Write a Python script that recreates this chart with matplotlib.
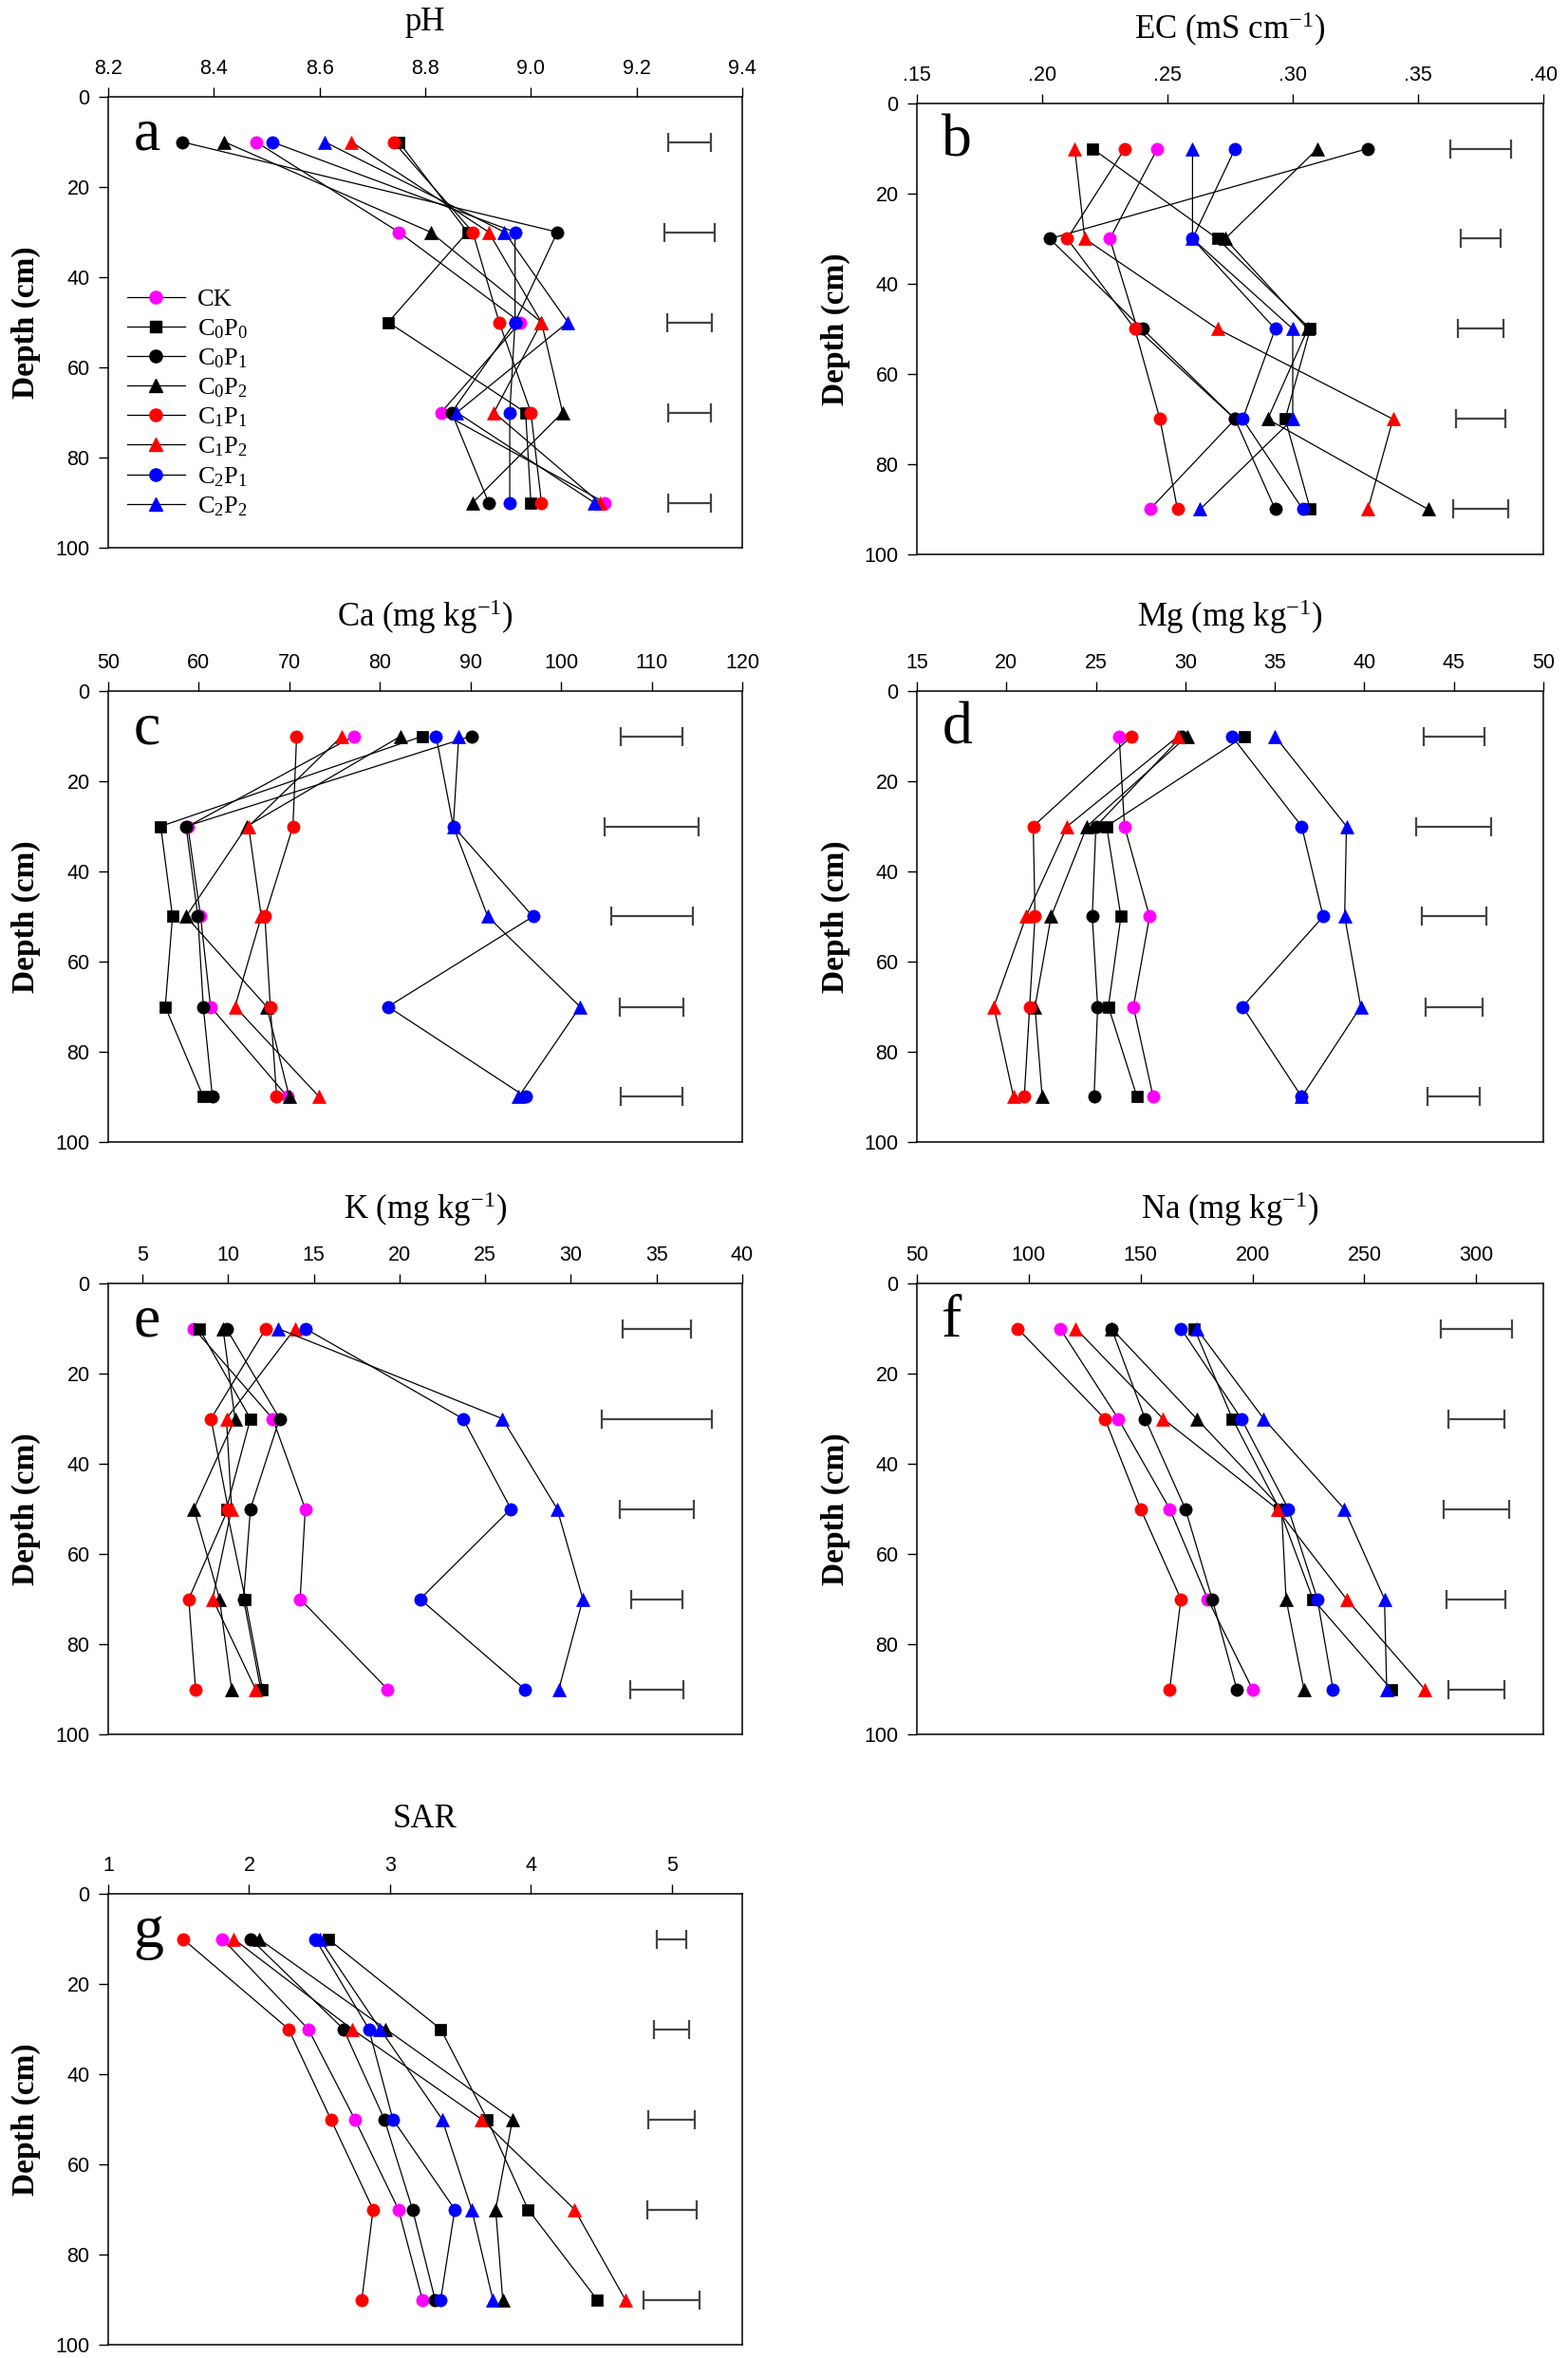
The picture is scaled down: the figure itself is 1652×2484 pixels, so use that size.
import matplotlib
matplotlib.use('Agg')
import matplotlib.pyplot as plt
from matplotlib.lines import Line2D
from matplotlib.ticker import FuncFormatter

plt.rcParams['mathtext.fontset'] = 'custom'
plt.rcParams['mathtext.rm'] = 'Liberation Serif'
plt.rcParams['mathtext.it'] = 'Liberation Serif:italic'
plt.rcParams['mathtext.bf'] = 'Liberation Serif:bold'

SERIF = 'Liberation Serif'
SANS = 'Liberation Sans'

# ---------------- data ----------------
depths = [10, 30, 50, 70, 90]
treatments = ['CK', 'C$_0$P$_0$', 'C$_0$P$_1$', 'C$_0$P$_2$',
              'C$_1$P$_1$', 'C$_1$P$_2$', 'C$_2$P$_1$', 'C$_2$P$_2$']
colors = ['#FF00FF', 'black', 'black', 'black', '#FF0000', '#FF0000', '#0000FF', '#0000FF']
markers = ['o', 's', 'o', '^', 'o', '^', 'o', '^']

# order of rows: CK, C0P0, C0P1, C0P2, C1P1, C1P2, C2P1, C2P2
ph_vals = [[8.48, 8.75, 8.98, 8.83, 9.14],
           [8.75, 8.88, 8.73, 8.99, 9.00],
           [8.34, 9.05, 8.97, 8.85, 8.92],
           [8.42, 8.81, 9.02, 9.06, 8.89],
           [8.74, 8.89, 8.94, 9.00, 9.02],
           [8.66, 8.92, 9.02, 8.93, 9.13],
           [8.51, 8.97, 8.97, 8.96, 8.96],
           [8.61, 8.95, 9.07, 8.86, 9.12]]
ph_bar_x = 9.30
ph_bar_hw = [0.040, 0.048, 0.042, 0.041, 0.040]

ec_vals = [[0.246, 0.227, 0.238, 0.277, 0.243],
           [0.220, 0.270, 0.307, 0.297, 0.307],
           [0.330, 0.203, 0.240, 0.277, 0.293],
           [0.310, 0.273, 0.306, 0.290, 0.354],
           [0.233, 0.210, 0.237, 0.247, 0.254],
           [0.213, 0.217, 0.270, 0.340, 0.330],
           [0.277, 0.260, 0.293, 0.280, 0.304],
           [0.260, 0.260, 0.300, 0.300, 0.263]]
ec_bar_x = 0.375
ec_bar_hw = [0.0122, 0.0078, 0.0090, 0.0097, 0.0110]

ca_vals = [[77.1, 58.8, 60.2, 61.3, 69.8],
           [84.7, 55.8, 57.1, 56.3, 60.5],
           [90.1, 58.6, 59.9, 60.5, 61.5],
           [82.3, 65.3, 58.6, 67.5, 70.0],
           [70.8, 70.4, 67.3, 67.9, 68.6],
           [75.8, 65.5, 66.9, 64.0, 73.3],
           [86.2, 88.1, 96.9, 80.9, 96.1],
           [88.7, 88.1, 91.9, 102.1, 95.3]]
ca_bar_x = 110.0
ca_bar_hw = [3.4, 5.2, 4.5, 3.5, 3.4]

mg_vals = [[26.3, 26.6, 28.0, 27.1, 28.2],
           [33.3, 25.6, 26.4, 25.7, 27.3],
           [29.8, 25.0, 24.8, 25.1, 24.9],
           [30.1, 24.5, 22.5, 21.6, 22.0],
           [27.0, 21.5, 21.6, 21.3, 21.0],
           [29.6, 23.4, 21.1, 19.3, 20.4],
           [32.6, 36.5, 37.7, 33.2, 36.5],
           [35.0, 39.0, 38.9, 39.8, 36.5]]
mg_bar_x = 45.0
mg_bar_hw = [1.7, 2.1, 1.8, 1.6, 1.45]

k_vals = [[8.0, 12.6, 14.5, 14.2, 19.3],
          [8.3, 11.3, 9.9, 11.0, 12.0],
          [9.9, 13.0, 11.3, 10.9, 11.9],
          [9.7, 10.4, 8.0, 9.5, 10.2],
          [12.2, 9.0, 10.0, 7.7, 8.1],
          [13.9, 9.9, 10.2, 9.1, 11.6],
          [14.5, 23.7, 26.5, 21.2, 27.3],
          [12.9, 26.0, 29.2, 30.7, 29.3]]
k_bar_x = 35.0
k_bar_hw = [2.0, 3.2, 2.15, 1.5, 1.55]

na_vals = [[114, 140, 163, 180, 200],
           [174, 191, 212, 227, 262],
           [137, 152, 170, 182, 193],
           [137, 175, 213, 215, 223],
           [95, 134, 150, 168, 163],
           [121, 160, 211, 242, 277],
           [168, 195, 216, 229, 236],
           [175, 205, 241, 259, 260]]
na_bar_x = 300.0
na_bar_hw = [15.8, 12.5, 14.6, 13.1, 12.4]

sar_vals = [[1.81, 2.42, 2.75, 3.06, 3.23],
            [2.56, 3.36, 3.69, 3.98, 4.47],
            [2.01, 2.67, 2.96, 3.16, 3.32],
            [2.07, 2.97, 3.87, 3.75, 3.80],
            [1.53, 2.28, 2.58, 2.88, 2.80],
            [1.89, 2.73, 3.65, 4.31, 4.67],
            [2.47, 2.85, 3.02, 3.46, 3.36],
            [2.50, 2.93, 3.37, 3.58, 3.73]]
sar_bar_x = 5.0
sar_bar_hw = [0.105, 0.126, 0.166, 0.175, 0.20]

titles = ['pH', 'EC (mS cm$^{-1}$)', 'Ca (mg kg$^{-1}$)', 'Mg (mg kg$^{-1}$)',
          'K (mg kg$^{-1}$)', 'Na (mg kg$^{-1}$)', 'SAR']
letters = ['a', 'b', 'c', 'd', 'e', 'f', 'g']
x_ticks = [[8.2, 8.4, 8.6, 8.8, 9.0, 9.2, 9.4],
           [0.15, 0.20, 0.25, 0.30, 0.35, 0.40],
           [50, 60, 70, 80, 90, 100, 110, 120],
           [15, 20, 25, 30, 35, 40, 45, 50],
           [5, 10, 15, 20, 25, 30, 35, 40],
           [50, 100, 150, 200, 250, 300],
           [1, 2, 3, 4, 5]]
x_limits = [(8.2, 9.4), (0.15, 0.40), (50, 120), (15, 50), (3, 40), (50, 330), (1, 5.5)]
depth_ticks = [0, 20, 40, 60, 80, 100]

panel_vals = [ph_vals, ec_vals, ca_vals, mg_vals, k_vals, na_vals, sar_vals]
bar_x = [ph_bar_x, ec_bar_x, ca_bar_x, mg_bar_x, k_bar_x, na_bar_x, sar_bar_x]
bar_hw = [ph_bar_hw, ec_bar_hw, ca_bar_hw, mg_bar_hw, k_bar_hw, na_bar_hw, sar_bar_hw]

fmt_ph = FuncFormatter(lambda v, p: '%.1f' % v)
fmt_ec = FuncFormatter(lambda v, p: ('%.2f' % v).lstrip('0'))
fmt_int = FuncFormatter(lambda v, p: '%d' % round(v))
formatters = [fmt_ph, fmt_ec, fmt_int, fmt_int, fmt_int, fmt_int, fmt_int]

# ---------------- layout (pixels of a 1652x2484 canvas) ----------------
W, H = 1652, 2484
boxes = [(114, 102, 668, 475), (966, 109, 660, 475),
         (114, 728, 668, 475), (966, 728, 660, 475),
         (114, 1352, 668, 475), (966, 1352, 660, 475),
         (114, 1995, 668, 475)]

fig = plt.figure(figsize=(W / 100, H / 100), dpi=100)

msizes = {'o': 9.5, 's': 8.5, '^': 10}

for i in range(7):
    l, t, w, h = boxes[i]
    ax = fig.add_axes([l / W, 1 - (t + h) / H, w / W, h / H])
    vals = panel_vals[i]
    for j in range(8):
        ax.plot(vals[j], depths, color='black', lw=0.9, zorder=2 + j * 0.01,
                marker=markers[j], markersize=msizes[markers[j]],
                markerfacecolor=colors[j], markeredgecolor=colors[j],
                markeredgewidth=0.5, label=treatments[j])
    ax.errorbar([bar_x[i]] * 5, depths, xerr=bar_hw[i], fmt='none',
                ecolor='#444444', elinewidth=1.6, capsize=7, capthick=1.6, zorder=3)

    ax.set_xlim(*x_limits[i])
    ax.set_ylim(100, 0)
    ax.set_xticks(x_ticks[i])
    ax.xaxis.set_major_formatter(formatters[i])
    ax.set_yticks(depth_ticks)
    ax.xaxis.set_ticks_position('top')
    ax.xaxis.set_label_position('top')
    ax.tick_params(axis='both', direction='out', length=7, width=1.0,
                   labelsize=15.5, pad=7)
    for lab in ax.get_xticklabels() + ax.get_yticklabels():
        lab.set_fontfamily(SANS)
    for sp in ax.spines.values():
        sp.set_linewidth(1.1)

    ax.text(0.5, 1.165, titles[i], transform=ax.transAxes, ha='center', va='center',
            fontsize=25, family=SERIF)
    ax.text(-0.13, 0.5, 'Depth (cm)', transform=ax.transAxes, ha='center', va='center',
            rotation=90, fontsize=24, family=SERIF, fontweight='bold')
    ax.text(0.04, 0.975, letters[i], transform=ax.transAxes, ha='left', va='top',
            fontsize=46, family=SERIF)

    if i == 0:
        handles = [Line2D([0], [0], color='black', lw=0.9, marker=markers[j],
                          markersize=msizes[markers[j]], markerfacecolor=colors[j],
                          markeredgecolor=colors[j]) for j in range(8)]
        ax.legend(handles, treatments, loc='upper left', bbox_to_anchor=(0.03, 0.575),
                  frameon=False, prop={'family': SERIF, 'size': 19},
                  handlelength=2.3, handletextpad=0.5, labelspacing=0.25,
                  borderpad=0, borderaxespad=0)

fig.savefig('out.png', dpi=100)
